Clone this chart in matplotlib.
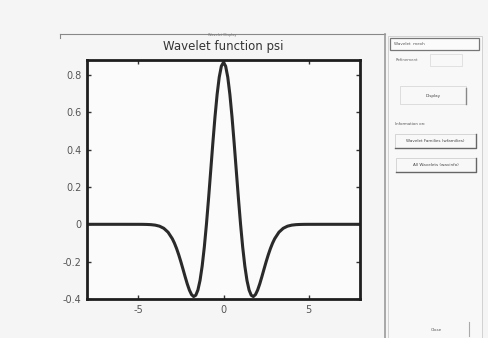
import matplotlib
matplotlib.use("Agg")
import matplotlib.pyplot as plt
from matplotlib.patches import Rectangle
from matplotlib.lines import Line2D

# ---- data (Mexican-hat shaped wavelet) ----
x_vals = [-8.0, -7.0, -6.0, -5.0, -4.75, -4.5, -4.25, -4.0, -3.75, -3.5, -3.25,
          -3.0, -2.875, -2.75, -2.625, -2.5, -2.375, -2.25, -2.125, -2.0,
          -1.875, -1.75, -1.625, -1.5, -1.375, -1.25, -1.125, -1.0, -0.875,
          -0.75, -0.625, -0.5, -0.375, -0.25, -0.125, 0.0, 0.125, 0.25, 0.375,
          0.5, 0.625, 0.75, 0.875, 1.0, 1.125, 1.25, 1.375, 1.5, 1.625, 1.75,
          1.875, 2.0, 2.125, 2.25, 2.375, 2.5, 2.625, 2.75, 2.875, 3.0, 3.25,
          3.5, 3.75, 4.0, 4.25, 4.5, 4.75, 5.0, 6.0, 7.0, 8.0]
psi_vals = [0.0, 0.0, 0.0, -0.0001, -0.0002, -0.0007, -0.0018, -0.0044, -0.0100,
            -0.0213, -0.0422, -0.0771, -0.1010, -0.1297, -0.1630, -0.2001,
            -0.2398, -0.2803, -0.3189, -0.3521, -0.3762, -0.3869, -0.3800,
            -0.3520, -0.3002, -0.2234, -0.1224, 0.0, 0.1386, 0.2864, 0.4347,
            0.5741, 0.6947, 0.7881, 0.8471, 0.8673, 0.8471, 0.7881, 0.6947,
            0.5741, 0.4347, 0.2864, 0.1386, 0.0, -0.1224, -0.2234, -0.3002,
            -0.3520, -0.3800, -0.3869, -0.3762, -0.3521, -0.3189, -0.2803,
            -0.2398, -0.2001, -0.1630, -0.1297, -0.1010, -0.0771, -0.0422,
            -0.0213, -0.0100, -0.0044, -0.0018, -0.0007, -0.0002, -0.0001,
            0.0, 0.0, 0.0]
x_ticks = [-5, 0, 5]
y_ticks = [-0.4, -0.2, 0, 0.2, 0.4, 0.6, 0.8]
y_tick_labels = ["-0.4", "-0.2", "0", "0.2", "0.4", "0.6", "0.8"]
title_text = "Wavelet function psi"
panel_header = "Wavelet Display"
panel_labels = ["Wavelet  mexh", "Refinement", "Display", "Information on:",
                "Wavelet Families (wfamilies)", "All Wavelets (wavinfo)", "Close"]

W, H = 488, 338
fig = plt.figure(figsize=(W / 100, H / 100), dpi=100)
fig.patch.set_facecolor("#f5f5f5")

def px(x, y):
    return x / W, 1 - y / H

ax = fig.add_axes([87 / W, 1 - 299 / H, (360 - 87) / W, (299 - 60) / H])
ax.set_facecolor("#fbfbfb")
ax.plot(x_vals, psi_vals, color="#2a2a2a", lw=2.2, solid_joinstyle="round")
ax.set_xlim(-8, 8)
ax.set_ylim(-0.4, 0.88)
ax.set_xticks(x_ticks)
ax.set_xticklabels([str(t) for t in x_ticks])
ax.set_yticks(y_ticks)
ax.set_yticklabels(y_tick_labels)
ax.tick_params(direction="in", length=3, width=1, colors="#333333",
               labelcolor="#555555", labelsize=7, top=True, right=True, pad=4)
for s in ax.spines.values():
    s.set_linewidth(2)
    s.set_color("#1e1e1e")
ax.set_title(title_text, fontsize=8.5, color="#333333", pad=7)

# frame line above the plot area
fig.add_artist(Line2D([60 / W, 385 / W], [1 - 34 / H, 1 - 34 / H],
                      color="#888888", lw=0.8))
fig.add_artist(Line2D([60 / W, 60 / W], [1 - 34 / H, 1 - 38 / H],
                      color="#888888", lw=0.8))
fig.text(*px(222, 35), panel_header, fontsize=2.5, color="#777777",
         ha="center", va="center")

# right control panel
fig.add_artist(Line2D([385 / W, 385 / W], [1 - 34 / H, 0], color="#9a9a9a", lw=1.2))
fig.add_artist(Rectangle(px(388, 338), 94 / W, (338 - 36) / H, fill=True,
                         facecolor="#f8f8f8", edgecolor="#cccccc", lw=0.6))
# popup at top
fig.add_artist(Rectangle(px(390, 50), 89 / W, 12 / H, facecolor="#fbfbfb",
                         edgecolor="#777777", lw=0.9))
fig.text(*px(394, 44), panel_labels[0], fontsize=3, color="#555555", va="center")
# refinement
fig.text(*px(396, 60), panel_labels[1], fontsize=2.8, color="#666666", va="center")
fig.add_artist(Rectangle(px(430, 66), 32 / W, 12 / H, facecolor="#f8f8f8",
                         edgecolor="#dddddd", lw=0.6))
# display button
fig.add_artist(Rectangle(px(400, 104), 66 / W, 18 / H, facecolor="#f8f8f8",
                         edgecolor="#d8d8d8", lw=0.6))
fig.add_artist(Line2D([466 / W, 466 / W], [1 - 88 / H, 1 - 104 / H],
                      color="#888888", lw=1))
fig.text(*px(433, 96), panel_labels[2], fontsize=3, color="#444444",
         ha="center", va="center")
fig.text(*px(395, 124), panel_labels[3], fontsize=2.8, color="#555555", va="center")
# info buttons
fig.add_artist(Rectangle(px(395, 148), 81 / W, 14 / H, facecolor="#f8f8f8",
                         edgecolor="#d0d0d0", lw=0.6))
fig.add_artist(Line2D([395 / W, 476 / W, 476 / W], [1 - 148 / H, 1 - 148 / H, 1 - 134 / H],
                      color="#666666", lw=1))
fig.text(*px(435, 141), panel_labels[4], fontsize=3, color="#444444",
         ha="center", va="center")
fig.add_artist(Rectangle(px(396, 172), 80 / W, 14 / H, facecolor="#f8f8f8",
                         edgecolor="#d0d0d0", lw=0.6))
fig.add_artist(Line2D([396 / W, 476 / W, 476 / W], [1 - 172 / H, 1 - 172 / H, 1 - 158 / H],
                      color="#666666", lw=1))
fig.text(*px(436, 165), panel_labels[5], fontsize=3, color="#444444",
         ha="center", va="center")
# close
fig.text(*px(436, 330), panel_labels[6], fontsize=3, color="#555555",
         ha="center", va="center")
fig.add_artist(Line2D([469 / W, 469 / W], [1 - 322 / H, 1 - 336 / H],
                      color="#aaaaaa", lw=0.8))

fig.savefig("out.png", dpi=100, facecolor=fig.get_facecolor())
